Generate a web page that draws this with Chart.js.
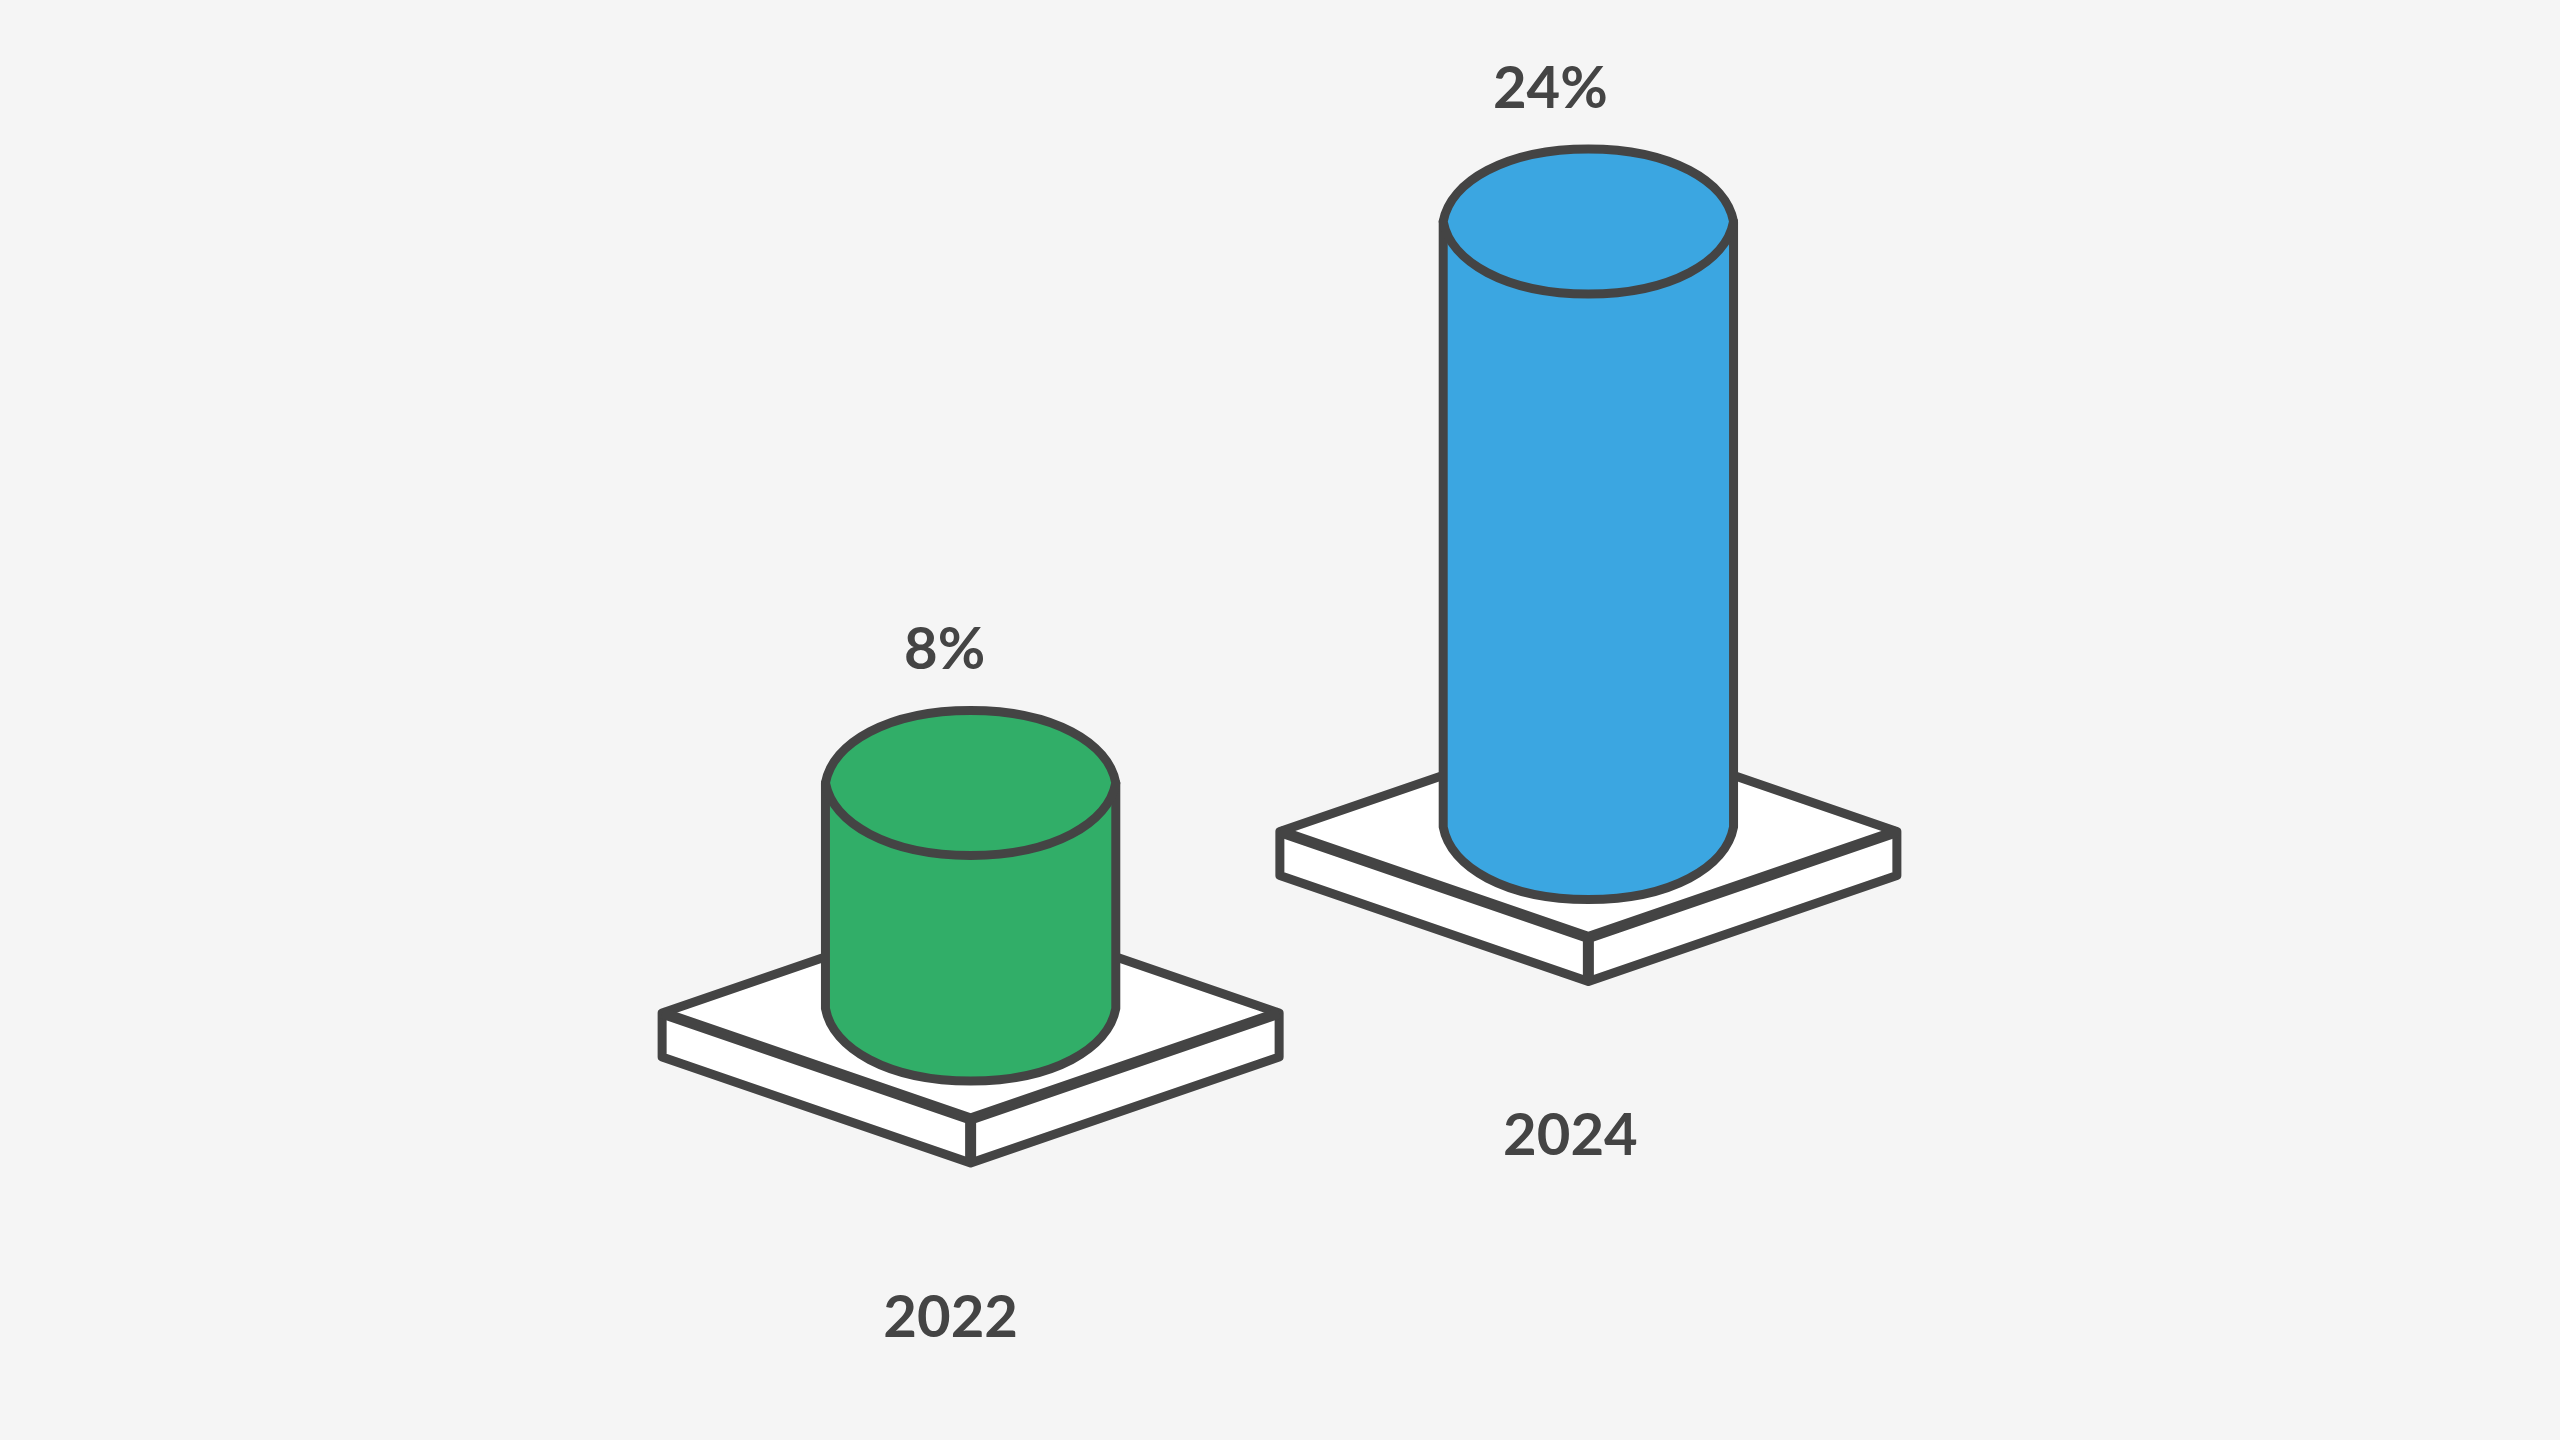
<!DOCTYPE html>
<html>
<head>
<meta charset="utf-8">
<title>Cylinders</title>
<script src="https://cdn.jsdelivr.net/npm/chart.js@4"></script>
<style>
  html, body { margin: 0; padding: 0; background: #f5f5f5; }
  canvas { display: block; }
</style>
</head>
<body>
<canvas id="grafico" width="2560" height="1440"></canvas>
<script>
const anos = ['2022', '2024'];
const valores = [8, 24];
const rotulos = ['8%', '24%'];
const cores = ['#31ae68', '#3ba6e1'];

const tinta = '#444444';
const fonte = '700 58px Lato';

// each column sits on its own plinth, 2022 is further forward in the drawing
const recuo = [181.5, 0];
const ajusteRotulo = [-26, -38];
const ajusteAno = [-20, -18];

function desenhaBase(ctx, x, y) {
  const a = 308.5, p = 106, e = 44;
  const cy = y + 4.5;
  ctx.fillStyle = '#ffffff';
  ctx.strokeStyle = tinta;
  ctx.lineWidth = 9;
  ctx.lineJoin = 'round';
  ctx.beginPath();
  ctx.moveTo(x - a, cy);
  ctx.lineTo(x, cy - p);
  ctx.lineTo(x + a, cy);
  ctx.lineTo(x + a, cy + e);
  ctx.lineTo(x, cy + p + e);
  ctx.lineTo(x - a, cy + e);
  ctx.closePath();
  ctx.fill();
  ctx.stroke();
  ctx.lineWidth = 11;
  ctx.beginPath();
  ctx.moveTo(x - a, cy);
  ctx.lineTo(x, cy + p);
  ctx.lineTo(x + a, cy);
  ctx.moveTo(x, cy + p);
  ctx.lineTo(x, cy + p + e);
  ctx.stroke();
}

// half of the rim, close to an ellipse but with slightly pointed ends
function meioAro(ctx, x, y, rx, ry, sentido) {
  const kv = 0.55, kh = 0.57, ponta = 0.95;
  ctx.bezierCurveTo(x - sentido * rx * ponta, y + ry * kv, x - sentido * rx * kh, y + ry, x, y + ry);
  ctx.bezierCurveTo(x + sentido * rx * kh, y + ry, x + sentido * rx * ponta, y + ry * kv, x + sentido * rx, y);
}

function desenhaCilindro(ctx, x, topo, fundo, largura, cor) {
  const rx = largura / 2, ry = 72.5;
  ctx.fillStyle = cor;
  ctx.strokeStyle = tinta;
  ctx.lineWidth = 9;
  ctx.beginPath();
  ctx.moveTo(x - rx, topo);
  ctx.lineTo(x - rx, fundo);
  meioAro(ctx, x, fundo, rx, ry, 1);
  ctx.lineTo(x + rx, topo);
  ctx.closePath();
  ctx.fill();
  ctx.stroke();
  ctx.beginPath();
  ctx.moveTo(x - rx, topo);
  meioAro(ctx, x, topo, rx, ry, 1);
  meioAro(ctx, x, topo, rx, -ry, -1);
  ctx.closePath();
  ctx.fill();
  ctx.stroke();
}

const cilindros = {
  id: 'cilindros',
  beforeDatasetDraw(chart, args) {
    const ctx = chart.ctx;
    args.meta.data.forEach((barra, i) => {
      const topo = barra.y + recuo[i];
      const fundo = barra.base + recuo[i];
      ctx.save();
      desenhaBase(ctx, barra.x, fundo);
      desenhaCilindro(ctx, barra.x, topo, fundo, barra.width, cores[i]);
      ctx.fillStyle = tinta;
      ctx.font = fonte;
      ctx.textAlign = 'center';
      ctx.textBaseline = 'alphabetic';
      ctx.fillText(rotulos[i], barra.x + ajusteRotulo[i], topo - 114);
      ctx.fillText(anos[i], barra.x + ajusteAno[i], fundo + 328);
      ctx.restore();
    });
    return false;
  }
};

new Chart(document.getElementById('grafico').getContext('2d'), {
  type: 'bar',
  data: {
    labels: anos,
    datasets: [{
      data: valores,
      base: -1.5,
      backgroundColor: cores,
      barPercentage: 0.47,
      categoryPercentage: 1
    }]
  },
  options: {
    responsive: false,
    animation: false,
    devicePixelRatio: 1,
    layout: { padding: { left: 661.75, right: 662.75, top: 221.5, bottom: 613 } },
    plugins: { legend: { display: false }, tooltip: { enabled: false } },
    scales: {
      x: { display: false },
      y: { display: false, min: -1.5, max: 24 }
    }
  },
  plugins: [cilindros]
});
</script>
</body>
</html>
